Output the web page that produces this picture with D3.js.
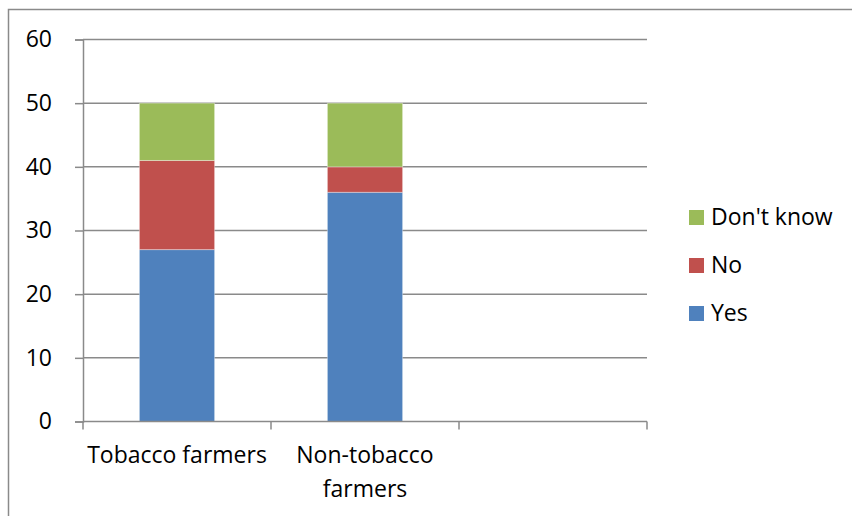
<!DOCTYPE html>
<html>
<head>
<meta charset="utf-8">
<script src="https://cdn.jsdelivr.net/npm/d3@7"></script>
<style>
  body { margin: 0; background: #fff; }
  svg { display: block; }
  text { font-family: "Open Sans", sans-serif; fill: #000; }
</style>
</head>
<body>
<div class="chart"></div>
<script>
// data
var categories = ["Tobacco farmers", "Non-tobacco farmers", ""];
var seriesNames = ["Yes", "No", "Don't know"];
var yesValues = [27, 36];
var noValues = [14, 4];
var dontKnowValues = [9, 10];
var yTicks = [0, 10, 20, 30, 40, 50, 60];
var colors = ["#4f81bd", "#c0504d", "#9bbb59"];

var width = 852, height = 516;
var margin = { "top": 39.5, "bottom": 94.5, "right": 205, "left": 83 };
var fontSize = "23px";

var svg = d3.select("div.chart").append("svg").attr("width", width).attr("height", height);

// outer frame (only top / left show in the picture)
svg.append("rect")
  .attr("x", 8.5).attr("y", 9.5)
  .attr("width", 1000).attr("height", 1000)
  .attr("fill", "none").attr("stroke", "#8a8a8a").attr("stroke-width", 1.5);

var xScale = d3.scaleBand()
  .domain(d3.range(categories.length))
  .range([margin.left, width - margin.right])
  .paddingInner(0).paddingOuter(0);

var yScale = d3.scaleLinear()
  .domain([0, 60])
  .range([height - margin.bottom, margin.top]);

// gridlines
svg.append("g")
  .selectAll("line")
  .data(yTicks.slice(1))
  .enter().append("line")
  .attr("x1", margin.left).attr("x2", width - margin.right)
  .attr("y1", function(d) { return yScale(d); })
  .attr("y2", function(d) { return yScale(d); })
  .attr("stroke", "#8a8a8a").attr("stroke-width", 1.5);

// stacked bars
var table = [0, 1].map(function(i) {
  return { "Yes": yesValues[i], "No": noValues[i], "Don't know": dontKnowValues[i], idx: i };
});
var stack = d3.stack().keys(seriesNames)(table);
var bw = xScale.bandwidth() * 0.4;

svg.append("g")
  .selectAll("g")
  .data(stack)
  .enter().append("g")
  .attr("fill", function(d, i) { return colors[i]; })
  .selectAll("rect")
  .data(function(d) { return d; })
  .enter().append("rect")
  .attr("x", function(d) { return xScale(d.data.idx) + (xScale.bandwidth() - bw) / 2; })
  .attr("width", bw)
  .attr("y", function(d) { return yScale(d[1]); })
  .attr("height", function(d) { return yScale(d[0]) - yScale(d[1]); })
  .attr("stroke", "#ffffff").attr("stroke-opacity", 0.35).attr("stroke-width", 1);

// y axis
var axisy = d3.axisLeft(yScale).tickValues(yTicks).tickSize(8).tickPadding(23);
var gy = svg.append("g")
  .attr("transform", "translate(" + margin.left + ",0)")
  .call(axisy);
gy.select(".domain").attr("stroke", "#8a8a8a").attr("stroke-width", 1.5);
gy.selectAll(".tick line").attr("stroke", "#8a8a8a").attr("stroke-width", 1.5);
gy.selectAll(".tick text").attr("font-size", fontSize).attr("font-family", "'Open Sans', sans-serif").attr("fill", "#000");

// x axis
var xEdges = d3.range(categories.length + 1).map(function(i) {
  return margin.left + i * xScale.step();
});
var base = yScale(0);
svg.append("line")
  .attr("x1", margin.left).attr("x2", width - margin.right)
  .attr("y1", base).attr("y2", base)
  .attr("stroke", "#8a8a8a").attr("stroke-width", 1.5);
svg.append("g").selectAll("line")
  .data(xEdges)
  .enter().append("line")
  .attr("x1", function(d) { return d; }).attr("x2", function(d) { return d; })
  .attr("y1", base).attr("y2", base + 8)
  .attr("stroke", "#8a8a8a").attr("stroke-width", 1.5);

var xLabels = [["Tobacco farmers"], ["Non-tobacco", "farmers"], []];
var lab = svg.append("g").selectAll("text")
  .data(xLabels)
  .enter().append("text")
  .attr("text-anchor", "middle")
  .attr("font-size", fontSize)
  .attr("x", function(d, i) { return xScale(i) + xScale.bandwidth() / 2; })
  .attr("y", 463);
lab.selectAll("tspan")
  .data(function(d) { return d; })
  .enter().append("tspan")
  .attr("x", function() { return d3.select(this.parentNode).attr("x"); })
  .attr("dy", function(d, i) { return i === 0 ? 0 : 34; })
  .text(function(d) { return d; });

// legend (reverse order like the original)
var legendItems = seriesNames.slice().reverse();
var legend = svg.append("g").selectAll("g")
  .data(legendItems)
  .enter().append("g")
  .attr("transform", function(d, i) { return "translate(689," + (210 + i * 48) + ")"; });
legend.append("rect")
  .attr("width", 15).attr("height", 15)
  .attr("fill", function(d) { return colors[seriesNames.indexOf(d)]; });
legend.append("text")
  .attr("x", 22).attr("y", 15)
  .attr("font-size", fontSize)
  .text(function(d) { return d; });
</script>
</body>
</html>
